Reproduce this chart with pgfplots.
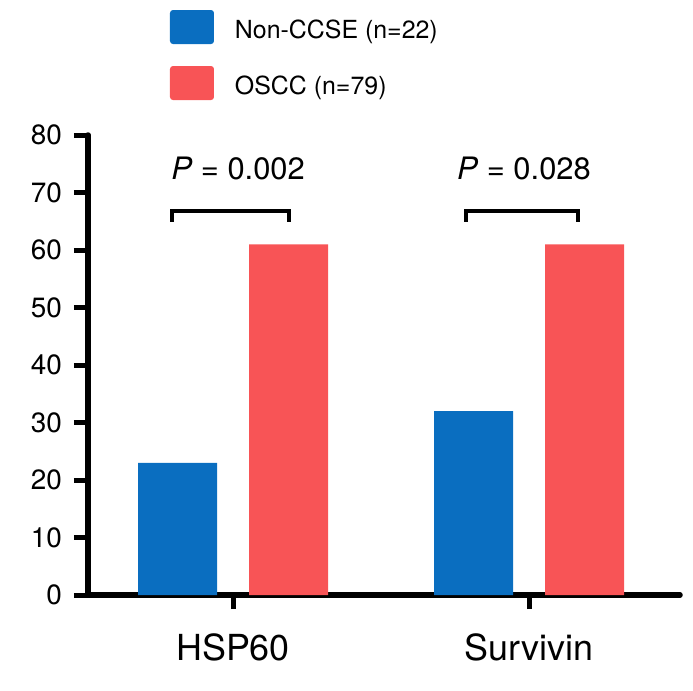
\documentclass[border=0pt]{standalone}
\usepackage{fontspec}
\setmainfont{TeX Gyre Heros}
\usepackage{pgfplots}
\pgfplotsset{compat=1.18}
\definecolor{cblue}{HTML}{0A6EC0}
\definecolor{cred}{HTML}{F85456}
\begin{document}
\begin{tikzpicture}
\useasboundingbox (-88bp,-96bp) rectangle (605bp,595bp);
\begin{axis}[
  at={(0,0)}, anchor=south west,
  scale only axis, width=592bp, height=460bp,
  xmin=-0.49, xmax=1.51, ymin=0, ymax=80,
  axis x line=bottom, axis y line=left,
  axis line style={-, line width=5.5bp, line cap=round},
  ytick={0,10,...,80}, xtick={0,1}, xticklabels={HSP60,Survivin},
  tick align=outside, major tick length=14bp,
  tick style={line width=5bp, black},
  /pgf/number format/assume math mode=true,
  yticklabel style={font=\fontsize{28}{28}\selectfont, inner sep=0pt, xshift=-12bp},
  xticklabel style={font=\fontsize{36}{36}\selectfont, inner sep=0pt, yshift=-25bp},
  ybar=32bp, bar width=79bp,
  legend image code/.code={\fill[#1, rounded corners=3bp] (0bp,-14bp) rectangle (44bp,20bp);},
  legend style={at={(axis description cs:0.1385,1.2717)}, anchor=north west,
    draw=none, fill=none, inner sep=0pt, outer sep=0pt,
    font=\fontsize{25}{25}\selectfont, row sep=22bp,
    nodes={inner sep=0pt, font=\fontsize{25}{25}\selectfont},
    /tikz/every odd column/.append style={column sep=21bp}},
  legend cell align=left,
]
\addplot[fill=cblue, draw=none] coordinates {(0,23) (1,32)};
\addplot[fill=cred, draw=none] coordinates {(0,61) (1,61)};
\legend{Non-CCSE (n=22), OSCC (n=79)}
\draw[line width=4bp] (axis cs:-0.206,64.9) -- (axis cs:-0.206,66.8) -- (axis cs:0.189,66.8) -- (axis cs:0.189,64.9);
\draw[line width=4bp] (axis cs:0.787,64.9) -- (axis cs:0.787,66.8) -- (axis cs:1.166,66.8) -- (axis cs:1.166,64.9);
\node[anchor=base, font=\fontsize{31}{31}\selectfont, inner sep=0pt] at (axis cs:0.017,72.3) {\textit{P} = 0.002};
\node[anchor=base, font=\fontsize{31}{31}\selectfont, inner sep=0pt] at (axis cs:0.983,72.3) {\textit{P} = 0.028};
\end{axis}
\end{tikzpicture}
\end{document}
